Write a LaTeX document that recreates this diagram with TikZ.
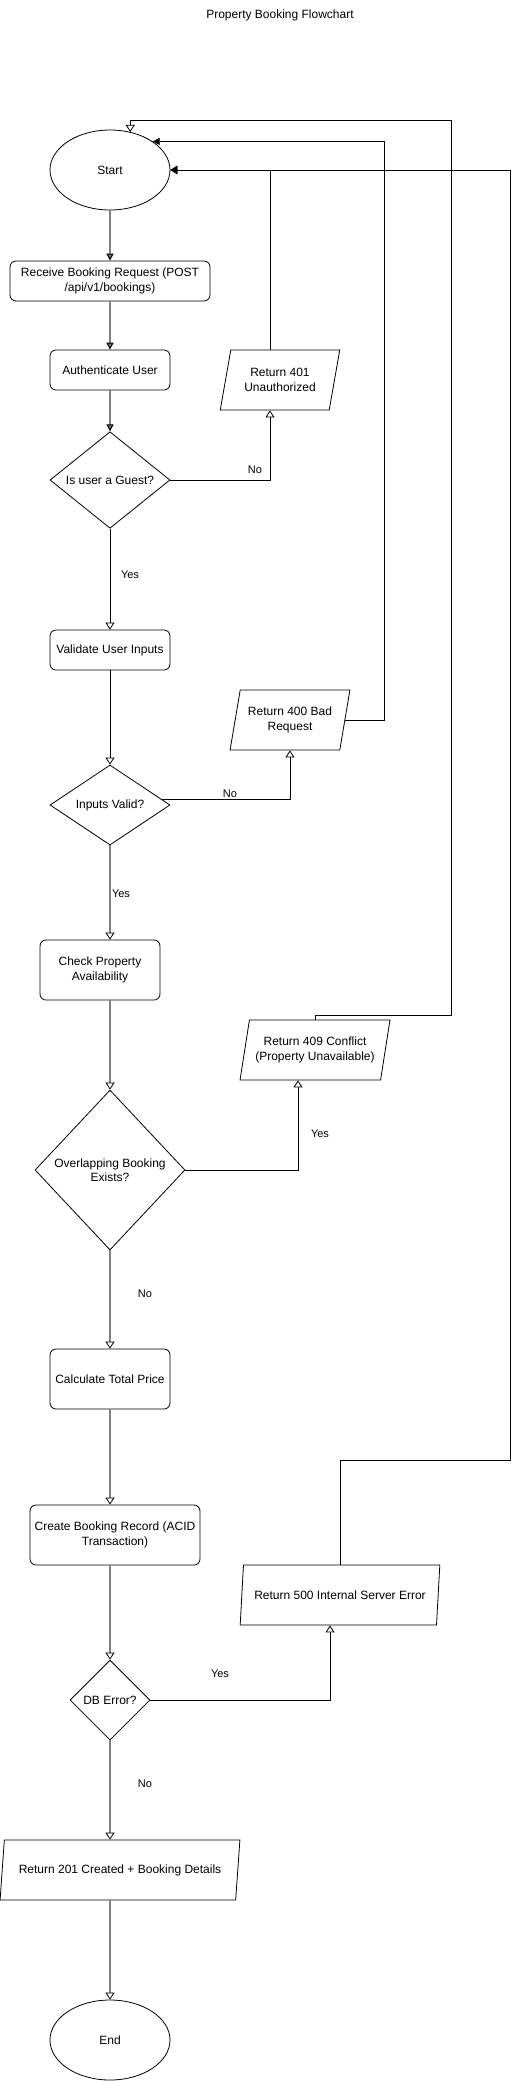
\documentclass[tikz,border=0pt]{standalone}
\usepackage{fontspec}
\setmainfont{Liberation Sans}
\usetikzlibrary{shapes.geometric,arrows.meta}
\tikzstyle{terminal}=[draw,line width=0.8pt,ellipse,minimum width=120pt,minimum height=80pt,inner sep=0pt]
\tikzstyle{process}=[draw,line width=0.8pt,rounded corners=6pt,minimum height=40pt,align=center,inner sep=2pt]
\tikzstyle{decision}=[draw,line width=0.8pt,diamond,inner sep=0pt,align=center]
\tikzstyle{io}=[draw,line width=0.8pt,trapezium,trapezium left angle=71.6,trapezium right angle=108.4,trapezium stretches=true,minimum height=60pt,align=center,inner sep=0pt]
\tikzstyle{lbl}=[font=\fontsize{11}{13}\selectfont]
\tikzstyle{mainline}=[color=black!50,line width=1.1pt]
\tikzstyle{sideline}=[color=black,line width=0.8pt]
\tikzstyle{solidtip}=[-{Triangle[length=7pt,width=7pt,color=black]}]
\tikzstyle{opentip}=[-{Triangle[open,length=7pt,width=9pt,color=black,line width=0.8pt]}]

\begin{document}
\begin{tikzpicture}[x=1pt,y=-1pt,font=\fontsize{12}{14.5}\selectfont]
  \useasboundingbox (0,0) rectangle (519,2081);
  \node (title) at (280,15) {Property Booking Flowchart};

  \node[terminal] (start) at (110,170) {Start};
  \node[process,minimum width=200pt] (receive) at (110,281) {Receive Booking Request (POST\\/api/v1/bookings)};
  \node[process,minimum width=120pt] (auth) at (110,370) {Authenticate User};
  \node[io,minimum width=120pt] (unauth) at (280,380) {Return 401\\Unauthorized};
  \node[decision,minimum width=120pt,minimum height=80pt] (guest) at (110,480) {Is user a Guest?};
  \node[process,minimum width=120pt] (validate) at (110,650) {Validate User Inputs};
  \node[io,minimum width=120pt] (badreq) at (290,720) {Return 400 Bad\\Request};
  \node[decision,minimum width=120pt,minimum height=80pt] (valid) at (110,805) {Inputs Valid?};
  \node[process,minimum width=120pt,minimum height=60pt] (check) at (100,970) {Check Property\\Availability};
  \node[io,minimum width=150pt] (conflict) at (315,1050) {Return 409 Conflict\\(Property Unavailable)};
  \node[decision,minimum width=150pt,minimum height=160pt] (overlap) at (110,1170) {Overlapping Booking\\Exists?};
  \node[process,minimum width=120pt,minimum height=60pt] (calc) at (110,1379) {Calculate Total Price};
  \node[process,minimum width=170pt,minimum height=60pt] (create) at (115,1535) {Create Booking Record (ACID\\Transaction)};
  \node[io,minimum width=200pt] (servererr) at (340,1595) {Return 500 Internal Server Error};
  \node[decision,minimum width=80pt,minimum height=80pt] (dberr) at (110,1700) {DB Error?};
  \node[io,minimum width=240pt] (created) at (120,1870) {Return 201 Created + Booking Details};
  \node[terminal] (finish) at (110,2040) {End};

  \node[lbl] (noguest) at (255,470) {No};
  \node[lbl] (yesguest) at (130,575) {Yes};
  \node[lbl] (novalid) at (230,794) {No};
  \node[lbl] (yesvalid) at (121,894) {Yes};
  \node[lbl] (yesoverlap) at (320,1134) {Yes};
  \node[lbl] (nooverlap) at (145,1294) {No};
  \node[lbl] (yesdb) at (220,1674) {Yes};
  \node[lbl] (nodb) at (145,1784) {No};

  \path[mainline,solidtip]
    (start) edge (receive)
    (receive) edge (auth)
    (auth) edge (guest);
  \path[sideline,opentip]
    (guest) edge (validate)
    (validate) edge (valid);
  \path[mainline,opentip]
    (valid.south) edge (valid.south |- check.north)
    (valid.south |- check.south) edge (overlap)
    (overlap) edge (calc)
    (calc.south) edge (calc.south |- create.north)
    (calc.south |- create.south) edge (dberr)
    (dberr.south) edge (dberr.south |- created.north)
    (created.south -| finish.north) edge (finish);

  \draw[sideline,opentip] (guest.east) -| ([xshift=-10pt]unauth.south);
  \draw[sideline,opentip] (valid.6) -| (badreq.south);
  \draw[sideline,opentip] (overlap.east) -| ([xshift=-17pt]conflict.south);
  \draw[sideline,opentip] (dberr.east) -| ([xshift=-10pt]servererr.south);

  \draw[sideline,solidtip] ([xshift=-10pt]unauth.north) |- (start.east);
  \draw[sideline,solidtip] (badreq.east) -- ++(39,0) |- (start.north east);
  \draw[sideline,opentip] (conflict.north) -- ++(0,-4) -| (451,120) -| (start.62);
  \draw[sideline,opentip] (servererr.north) |- (510,1460) |- (start.east);
\end{tikzpicture}
\end{document}
